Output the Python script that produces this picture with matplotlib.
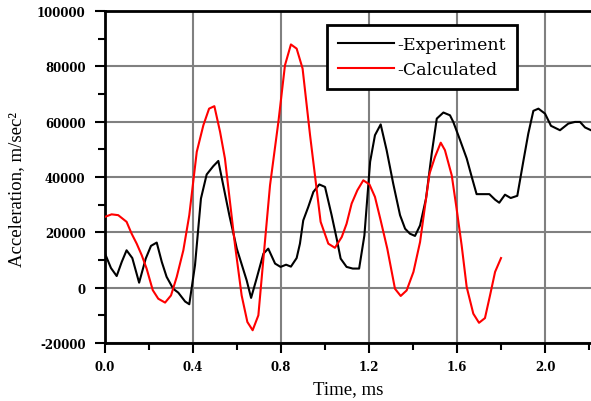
import matplotlib
matplotlib.use("Agg")
import matplotlib.pyplot as plt
from matplotlib.ticker import MultipleLocator

plt.rcParams['font.family'] = ['Liberation Serif', 'DejaVu Serif']
plt.rcParams['axes.unicode_minus'] = False

# experiment (black)
exp_t = [0.0, 0.027, 0.053, 0.076, 0.098, 0.124, 0.155, 0.185, 0.209, 0.235,
         0.258, 0.28, 0.31, 0.333, 0.364, 0.383, 0.409, 0.436, 0.462, 0.492,
         0.515, 0.565, 0.599, 0.644, 0.664, 0.689, 0.72, 0.742, 0.773, 0.798,
         0.823, 0.845, 0.871, 0.886, 0.901, 0.924, 0.947, 0.974, 1.0, 1.03,
         1.053, 1.071, 1.098, 1.126, 1.155, 1.179, 1.205, 1.227, 1.253, 1.28,
         1.31, 1.341, 1.364, 1.386, 1.409, 1.432, 1.459, 1.485, 1.508, 1.538,
         1.568, 1.583, 1.614, 1.644, 1.667, 1.689, 1.72, 1.747, 1.773, 1.792,
         1.818, 1.844, 1.874, 1.901, 1.924, 1.947, 1.97, 2.0, 2.027, 2.068,
         2.106, 2.136, 2.159, 2.182, 2.209]
exp_a = [12300, 7100, 4200, 9300, 13500, 10700, 1800, 10500, 15100, 16300,
         9300, 3900, -400, -1800, -5000, -6000, 8100, 32200, 40900, 43900,
         45800, 26200, 14100, 2600, -3700, 3300, 12300, 14100, 8700, 7500,
         8300, 7600, 10700, 15900, 24300, 29200, 34600, 37300, 36400, 26200,
         17700, 10500, 7500, 6900, 6900, 18900, 45500, 55100, 59000, 49700,
         37600, 26200, 21300, 19500, 18700, 22500, 32200, 48500, 61100, 63300,
         62300, 59900, 53300, 46700, 40000, 33800, 33800, 33800, 31800, 30700,
         33600, 32400, 33200, 45500, 55700, 63900, 64700, 62900, 58500, 56900,
         59300, 59900, 59900, 57900, 56900]

# calculated (red)
calc_t = [0.0, 0.03, 0.06, 0.098, 0.121, 0.144, 0.167, 0.189, 0.217, 0.242,
          0.273, 0.3, 0.326, 0.356, 0.383, 0.417, 0.447, 0.473, 0.497, 0.523,
          0.545, 0.568, 0.591, 0.621, 0.647, 0.671, 0.697, 0.72, 0.75, 0.788,
          0.818, 0.845, 0.871, 0.898, 0.932, 0.98, 1.015, 1.045, 1.076, 1.098,
          1.121, 1.147, 1.174, 1.202, 1.227, 1.253, 1.283, 1.318, 1.344, 1.371,
          1.402, 1.432, 1.455, 1.475, 1.5, 1.526, 1.545, 1.576, 1.598, 1.621,
          1.644, 1.674, 1.7, 1.727, 1.75, 1.773, 1.8]
calc_a = [25600, 26500, 26200, 23800, 19500, 15900, 11700, 6900, -900, -4000,
          -5400, -2800, 3900, 13500, 26200, 49100, 58700, 64700, 65600, 56300,
          46700, 31000, 15300, -2800, -12400, -15400, -10000, 10500, 37000, 59900,
          80400, 87900, 86400, 79200, 55100, 23800, 15900, 14400, 18300, 23100,
          30400, 35200, 38800, 37300, 32800, 24300, 14100, -400, -3000, -1000,
          5700, 16500, 29800, 41200, 47300, 52400, 49700, 40600, 28600, 15300,
          200, -9400, -12700, -11000, -2800, 5700, 10700]

x_ticks = [0.0, 0.4, 0.8, 1.2, 1.6, 2.0]
x_labels = ['0.0', '0.4', '0.8', '1.2', '1.6', '2.0']

fig = plt.figure(figsize=(5.91, 4.02), dpi=100)
ax = fig.add_axes([0.1777, 0.1443, 0.8223, 0.8259])

ax.plot(exp_t, exp_a, color='black', lw=1.5, label='-Experiment', zorder=3)
ax.plot(calc_t, calc_a, color='red', lw=1.5, label='-Calculated', zorder=3)

ax.set_xlim(0, 2.209)
ax.set_ylim(-20000, 100000)
ax.xaxis.set_minor_locator(MultipleLocator(0.2))
ax.yaxis.set_major_locator(MultipleLocator(20000))
ax.yaxis.set_minor_locator(MultipleLocator(10000))
ax.set_xticks(x_ticks)
ax.set_xticklabels(x_labels)

ax.grid(True, which='major', color='#808080', lw=1.5)
ax.set_axisbelow(True)
for s in ['left', 'bottom', 'top']:
    ax.spines[s].set_linewidth(2)
ax.spines['right'].set_visible(False)
ax.tick_params(which='both', direction='out', width=1.5, top=False, right=False)
ax.tick_params(which='major', length=7, labelsize=8.5)
ax.tick_params(axis='x', which='major', pad=5)
ax.tick_params(axis='y', which='major', pad=7)
ax.tick_params(which='minor', length=5)
for lab in ax.get_xticklabels() + ax.get_yticklabels():
    lab.set_fontweight('bold')
    lab.set_family('DejaVu Serif')

ax.set_xlabel('Time, ms', fontsize=13.5, labelpad=5)
ax.set_ylabel('Acceleration, m/sec²', fontsize=13.5)
ax.yaxis.set_label_coords(-0.165, 0.464)

leg = ax.legend(loc='upper left', bbox_to_anchor=(0.457, 0.959),
                prop={'family': 'DejaVu Serif', 'size': 12.5},
                handlelength=3.2, handletextpad=0.2, borderpad=0.65,
                labelspacing=0.45, fancybox=False, framealpha=1,
                edgecolor='black', borderaxespad=0)
leg.get_frame().set_linewidth(2)

fig.savefig('out.png', dpi=100)
